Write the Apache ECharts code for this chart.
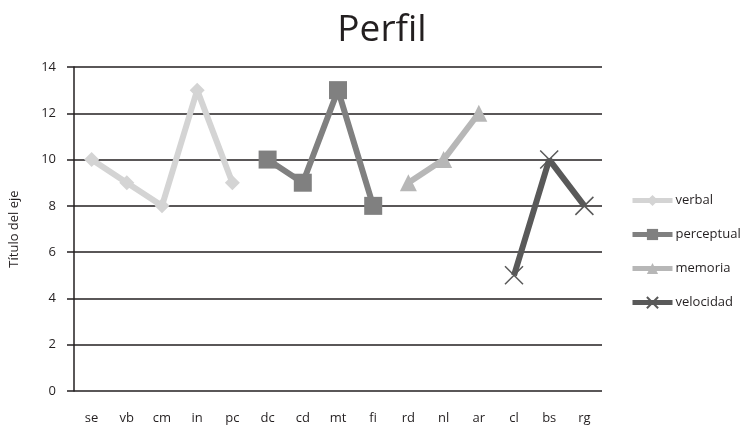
<!DOCTYPE html>
<html>
<head>
<meta charset="utf-8">
<style>
  html, body { margin: 0; padding: 0; background: #fff; }
  #chart { width: 750px; height: 431px; }
</style>
<script src="https://cdn.jsdelivr.net/npm/echarts@6/dist/echarts.min.js"></script>
</head>
<body>
<div id="chart"></div>
<script>
// Subtest codes along the horizontal axis
const categories = ['se', 'vb', 'cm', 'in', 'pc', 'dc', 'cd', 'mt', 'fi', 'rd', 'nl', 'ar', 'cl', 'bs', 'rg'];

// Scores per index ('-' = not part of that index)
const verbal      = [10, 9, 8, 13, 9, '-', '-', '-', '-', '-', '-', '-', '-', '-', '-'];
const perceptual  = ['-', '-', '-', '-', '-', 10, 9, 13, 8, '-', '-', '-', '-', '-', '-'];
const memoria     = ['-', '-', '-', '-', '-', '-', '-', '-', '-', 9, 10, 12, '-', '-', '-'];
const velocidad   = ['-', '-', '-', '-', '-', '-', '-', '-', '-', '-', '-', '-', 5, 10, 8];

const yTicks = { min: 0, max: 14, interval: 2 };

const FONT = '"Open Sans", "Noto Sans", sans-serif';
const crossPath = 'path://M0,0L10,10M10,0L0,10';

function lineSeries(name, data, color, symbol, symbolSize, extraItem) {
  return {
    name: name,
    type: 'line',
    data: data,
    connectNulls: false,
    symbol: symbol,
    symbolSize: symbolSize,
    lineStyle: { color: color, width: 6 },
    itemStyle: Object.assign({ color: color }, extraItem || {}),
    emphasis: { disabled: true },
    z: 3
  };
}

const chart = echarts.init(document.getElementById('chart'), null, { renderer: 'canvas' });
chart.setOption({
  animation: false,
  backgroundColor: '#fff',
  title: {
    text: 'Perfil',
    left: 377,
    top: 7,
    textAlign: 'center',
    textStyle: { fontFamily: FONT, fontSize: 37, fontWeight: 'normal', color: '#231f20' }
  },
  grid: { left: 74, right: 148, top: 67, bottom: 40, containLabel: false },
  legend: {
    orient: 'vertical',
    left: 625,
    top: 189,
    itemWidth: 40,
    itemHeight: 14,
    itemGap: 21,
    lineStyle: { width: 5 },
    textStyle: { fontFamily: FONT, fontSize: 13, color: '#231f20', padding: [0, 0, 0, -2] },
    data: ['verbal', 'perceptual', 'memoria', 'velocidad']
  },
  xAxis: {
    type: 'category',
    data: categories,
    boundaryGap: true,
    axisLine: { show: false },
    axisTick: { show: false },
    axisLabel: { fontFamily: FONT, fontSize: 13, color: '#231f20', margin: 21 }
  },
  yAxis: {
    type: 'value',
    min: yTicks.min,
    max: yTicks.max,
    interval: yTicks.interval,
    name: 'Título del eje',
    nameLocation: 'middle',
    nameGap: 53,
    nameTextStyle: { fontFamily: FONT, fontSize: 13, color: '#231f20' },
    axisLine: { show: true, lineStyle: { color: '#231f20', width: 1.5 } },
    axisTick: { show: true, length: 7, lineStyle: { color: '#231f20', width: 1.5 } },
    axisLabel: { fontFamily: FONT, fontSize: 13, color: '#231f20', margin: 18 },
    splitLine: { show: true, lineStyle: { color: '#231f20', width: 1.5 } }
  },
  series: [
    lineSeries('verbal', verbal, '#d4d4d4', 'diamond', 15),
    lineSeries('perceptual', perceptual, '#808080', 'rect', 18),
    lineSeries('memoria', memoria, '#b7b7b7', 'triangle', 17),
    lineSeries('velocidad', velocidad, '#595959', crossPath, 18,
      { borderColor: '#595959', borderWidth: 1.5 })
  ]
});
</script>
</body>
</html>
